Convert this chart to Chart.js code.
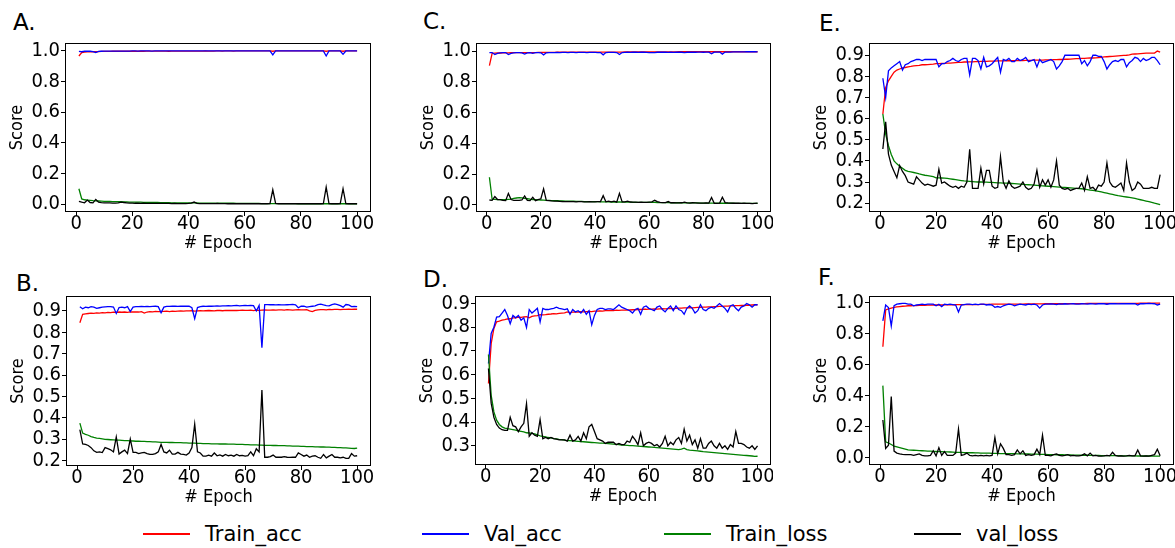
<!DOCTYPE html>
<html>
<head>
<meta charset="utf-8">
<script src="https://cdn.jsdelivr.net/npm/chart.js@4.4.0/dist/chart.umd.min.js"></script>
<style>
  body { margin: 0; background: #fff; width: 1175px; height: 548px; overflow: hidden; position: relative; font-family: 'DejaVu Sans', sans-serif; color: #000; }
  canvas { position: absolute; }
  .tag { position: absolute; font-size: 23px; line-height: 23px; }
  .key { position: absolute; top: 524px; font-size: 21px; line-height: 21px; white-space: nowrap; }
  .key i { position: absolute; left: 0; top: 9px; height: 2px; width: 47px; }
  .key span { position: absolute; left: 62px; top: 0; }
</style>
</head>
<body>
<div class="tag" style="left:13px;top:11px">A.</div>
<div class="tag" style="left:16px;top:272px">B.</div>
<div class="tag" style="left:423px;top:10px">C.</div>
<div class="tag" style="left:423px;top:268px">D.</div>
<div class="tag" style="left:819px;top:12px">E.</div>
<div class="tag" style="left:818px;top:266px">F.</div>

<canvas id="chartA"></canvas>
<canvas id="chartB"></canvas>
<canvas id="chartC"></canvas>
<canvas id="chartD"></canvas>
<canvas id="chartE"></canvas>
<canvas id="chartF"></canvas>

<div class="key" style="left:143px"><i style="background:#ff0000"></i><span>Train_acc</span></div>
<div class="key" style="left:422px"><i style="background:#0000ff"></i><span>Val_acc</span></div>
<div class="key" style="left:664px"><i style="background:#008000"></i><span>Train_loss</span></div>
<div class="key" style="left:914px"><i style="background:#000000"></i><span>val_loss</span></div>

<script>
// epochs 1..100 on the x axis
const epochs = Array.from({ length: 100 }, (_, i) => i + 1);
const seriesNames = ['Train_acc', 'Val_acc', 'Train_loss', 'val_loss'];
const xTicks = [0, 20, 40, 60, 80, 100];
const yTicksUnit = [0, 0.2, 0.4, 0.6, 0.8, 1.0];
const yTicksB = [0.2, 0.3, 0.4, 0.5, 0.6, 0.7, 0.8, 0.9];
const yTicksD = [0.3, 0.4, 0.5, 0.6, 0.7, 0.8, 0.9];
const yTicksE = [0.2, 0.3, 0.4, 0.5, 0.6, 0.7, 0.8, 0.9];

// ---- A
const trainAccA = [
  0.967,0.990,0.993,0.994,0.995,0.995,0.996,0.996,0.997,0.997,
  0.997,0.997,0.998,0.998,0.998,0.998,0.998,0.998,0.998,0.998,
  0.998,0.998,0.999,0.998,0.999,0.999,0.999,0.999,0.999,0.999,
  0.999,0.999,0.998,0.999,0.999,0.999,0.999,0.999,0.999,0.999,
  0.999,0.999,0.999,0.999,0.999,1.000,0.999,0.999,0.999,1.000,
  1.000,0.999,1.000,1.000,1.000,0.999,1.000,1.000,1.000,1.000,
  1.000,1.000,1.000,1.000,1.000,1.000,1.000,1.000,1.000,0.998,
  1.000,1.000,1.000,1.000,1.000,1.000,1.000,1.000,1.000,1.000,
  1.000,1.000,1.000,1.000,1.000,1.000,1.000,1.000,0.998,1.000,
  1.000,1.000,1.000,1.000,0.998,1.000,1.000,1.000,1.000,1.000];
const valAccA = [
  0.997,0.995,0.998,0.999,0.998,0.996,0.990,0.997,0.998,0.999,
  0.999,0.999,0.999,0.999,0.999,0.999,0.999,0.999,0.999,1.000,
  1.000,0.999,1.000,1.000,1.000,1.000,0.999,1.000,1.000,1.000,
  1.000,1.000,1.000,1.000,1.000,1.000,1.000,1.000,1.000,1.000,
  1.000,1.000,1.000,1.000,1.000,1.000,1.000,1.000,1.000,1.000,
  1.000,1.000,1.000,1.000,1.000,1.000,1.000,1.000,1.000,1.000,
  1.000,1.000,1.000,1.000,1.000,1.000,1.000,1.000,1.000,0.974,
  1.000,1.000,1.000,1.000,1.000,1.000,1.000,1.000,1.000,1.000,
  1.000,1.000,1.000,1.000,1.000,1.000,1.000,1.000,0.967,1.000,
  1.000,1.000,1.000,1.000,0.978,1.000,1.000,1.000,1.000,1.000];
const trainLossA = [
  0.100,0.033,0.028,0.026,0.024,0.022,0.021,0.020,0.019,0.018,
  0.018,0.017,0.016,0.016,0.015,0.015,0.014,0.014,0.013,0.013,
  0.012,0.012,0.012,0.011,0.011,0.011,0.010,0.010,0.010,0.009,
  0.009,0.009,0.009,0.008,0.008,0.008,0.008,0.008,0.007,0.007,
  0.007,0.007,0.007,0.006,0.006,0.006,0.006,0.006,0.006,0.005,
  0.005,0.005,0.005,0.005,0.005,0.005,0.004,0.004,0.004,0.004,
  0.004,0.004,0.004,0.004,0.004,0.003,0.003,0.003,0.003,0.003,
  0.003,0.003,0.003,0.003,0.003,0.003,0.003,0.003,0.002,0.002,
  0.002,0.002,0.002,0.002,0.002,0.002,0.002,0.002,0.002,0.002,
  0.002,0.002,0.002,0.002,0.002,0.002,0.002,0.002,0.002,0.002];
const valLossA = [
  0.017,0.012,0.008,0.026,0.010,0.008,0.030,0.012,0.009,0.008,
  0.007,0.007,0.006,0.006,0.007,0.012,0.010,0.008,0.006,0.006,
  0.005,0.005,0.004,0.005,0.004,0.004,0.004,0.004,0.004,0.004,
  0.004,0.004,0.004,0.003,0.004,0.003,0.003,0.003,0.003,0.004,
  0.006,0.013,0.005,0.003,0.003,0.003,0.003,0.003,0.003,0.004,
  0.003,0.003,0.003,0.002,0.002,0.002,0.002,0.002,0.002,0.002,
  0.002,0.002,0.002,0.002,0.002,0.002,0.002,0.002,0.003,0.093,
  0.004,0.002,0.002,0.002,0.002,0.002,0.002,0.002,0.002,0.002,
  0.002,0.002,0.002,0.002,0.002,0.002,0.002,0.003,0.110,0.003,
  0.002,0.002,0.002,0.003,0.100,0.003,0.002,0.002,0.002,0.002];

// ---- B
const trainAccB = [
  0.845,0.884,0.886,0.888,0.890,0.889,0.891,0.890,0.892,0.891,
  0.893,0.892,0.894,0.893,0.895,0.894,0.895,0.893,0.896,0.895,
  0.896,0.895,0.897,0.890,0.895,0.897,0.896,0.898,0.897,0.897,
  0.898,0.899,0.897,0.899,0.898,0.899,0.900,0.899,0.900,0.900,
  0.901,0.899,0.900,0.901,0.900,0.901,0.902,0.901,0.900,0.902,
  0.902,0.901,0.903,0.902,0.902,0.903,0.902,0.903,0.904,0.903,
  0.903,0.904,0.902,0.904,0.903,0.904,0.905,0.904,0.904,0.905,
  0.904,0.905,0.905,0.904,0.906,0.905,0.904,0.905,0.906,0.905,
  0.905,0.906,0.900,0.897,0.903,0.905,0.906,0.906,0.905,0.907,
  0.906,0.907,0.907,0.906,0.907,0.907,0.908,0.907,0.908,0.908];
const valAccB = [
  0.920,0.910,0.918,0.915,0.920,0.918,0.912,0.915,0.918,0.919,
  0.920,0.920,0.918,0.888,0.916,0.918,0.915,0.920,0.897,0.918,
  0.920,0.920,0.921,0.920,0.921,0.920,0.921,0.922,0.920,0.892,
  0.918,0.921,0.921,0.922,0.922,0.921,0.922,0.922,0.922,0.922,
  0.915,0.864,0.916,0.920,0.922,0.921,0.923,0.922,0.923,0.924,
  0.923,0.924,0.924,0.925,0.924,0.925,0.926,0.924,0.925,0.926,
  0.925,0.926,0.925,0.900,0.926,0.728,0.930,0.930,0.929,0.929,
  0.928,0.929,0.928,0.928,0.929,0.930,0.931,0.929,0.915,0.922,
  0.922,0.918,0.920,0.922,0.924,0.930,0.932,0.928,0.925,0.924,
  0.930,0.933,0.930,0.925,0.918,0.930,0.928,0.920,0.921,0.920];
const trainLossB = [
  0.375,0.328,0.322,0.318,0.312,0.308,0.305,0.303,0.301,0.299,
  0.298,0.297,0.296,0.295,0.295,0.294,0.293,0.293,0.292,0.291,
  0.290,0.290,0.289,0.289,0.288,0.288,0.287,0.287,0.286,0.285,
  0.285,0.285,0.284,0.284,0.283,0.283,0.283,0.282,0.282,0.281,
  0.281,0.281,0.280,0.280,0.279,0.279,0.279,0.278,0.278,0.278,
  0.277,0.277,0.277,0.276,0.276,0.276,0.275,0.275,0.275,0.274,
  0.274,0.273,0.273,0.273,0.272,0.272,0.271,0.271,0.271,0.270,
  0.270,0.269,0.269,0.269,0.268,0.268,0.267,0.267,0.267,0.266,
  0.266,0.265,0.265,0.265,0.264,0.264,0.263,0.263,0.262,0.262,
  0.261,0.261,0.260,0.260,0.259,0.259,0.258,0.257,0.256,0.258];
const valLossB = [
  0.344,0.277,0.275,0.270,0.260,0.245,0.238,0.240,0.237,0.260,
  0.255,0.250,0.240,0.310,0.230,0.240,0.248,0.232,0.300,0.238,
  0.238,0.232,0.235,0.238,0.232,0.228,0.228,0.232,0.240,0.275,
  0.240,0.235,0.248,0.230,0.230,0.238,0.230,0.228,0.225,0.235,
  0.260,0.370,0.240,0.235,0.220,0.220,0.225,0.220,0.235,0.222,
  0.226,0.220,0.228,0.222,0.225,0.220,0.228,0.222,0.224,0.220,
  0.222,0.240,0.222,0.255,0.240,0.530,0.215,0.215,0.218,0.225,
  0.215,0.216,0.215,0.218,0.215,0.214,0.216,0.215,0.235,0.228,
  0.220,0.225,0.215,0.220,0.222,0.215,0.210,0.228,0.212,0.220,
  0.228,0.215,0.215,0.212,0.215,0.210,0.210,0.232,0.220,0.222];

// ---- C
const trainAccC = [
  0.905,0.985,0.986,0.987,0.987,0.988,0.988,0.988,0.989,0.989,
  0.989,0.989,0.990,0.990,0.990,0.990,0.990,0.990,0.991,0.991,
  0.991,0.991,0.991,0.991,0.991,0.992,0.992,0.992,0.992,0.992,
  0.992,0.992,0.992,0.992,0.992,0.993,0.993,0.993,0.993,0.993,
  0.993,0.993,0.993,0.993,0.993,0.993,0.993,0.993,0.993,0.993,
  0.994,0.994,0.994,0.994,0.994,0.994,0.994,0.994,0.994,0.994,
  0.994,0.994,0.994,0.994,0.994,0.994,0.994,0.994,0.994,0.994,
  0.995,0.995,0.995,0.995,0.995,0.995,0.995,0.995,0.995,0.995,
  0.995,0.995,0.995,0.995,0.995,0.995,0.995,0.995,0.995,0.995,
  0.995,0.995,0.995,0.995,0.995,0.995,0.995,0.995,0.995,0.995];
const valAccC = [
  0.990,0.990,0.977,0.985,0.988,0.990,0.990,0.977,0.985,0.988,
  0.989,0.990,0.988,0.980,0.988,0.990,0.985,0.990,0.990,0.988,
  0.975,0.988,0.990,0.990,0.990,0.991,0.990,0.991,0.991,0.990,
  0.991,0.991,0.990,0.991,0.991,0.991,0.990,0.991,0.991,0.991,
  0.990,0.990,0.975,0.990,0.991,0.991,0.991,0.990,0.977,0.990,
  0.991,0.992,0.991,0.992,0.992,0.991,0.992,0.992,0.991,0.990,
  0.990,0.990,0.992,0.992,0.992,0.992,0.991,0.992,0.991,0.992,
  0.992,0.992,0.990,0.992,0.992,0.993,0.992,0.993,0.993,0.992,
  0.993,0.993,0.982,0.993,0.993,0.993,0.980,0.993,0.993,0.993,
  0.994,0.994,0.994,0.994,0.994,0.995,0.995,0.995,0.995,0.994];
const trainLossC = [
  0.180,0.037,0.036,0.035,0.035,0.034,0.034,0.036,0.038,0.042,
  0.045,0.048,0.046,0.042,0.040,0.037,0.035,0.034,0.033,0.032,
  0.031,0.030,0.029,0.028,0.028,0.027,0.026,0.026,0.025,0.025,
  0.024,0.024,0.023,0.023,0.023,0.022,0.022,0.022,0.021,0.021,
  0.021,0.020,0.020,0.020,0.020,0.019,0.019,0.019,0.019,0.018,
  0.018,0.018,0.018,0.017,0.017,0.017,0.017,0.016,0.016,0.016,
  0.016,0.016,0.015,0.015,0.015,0.015,0.015,0.014,0.014,0.014,
  0.014,0.014,0.013,0.013,0.013,0.013,0.013,0.013,0.012,0.012,
  0.012,0.012,0.012,0.012,0.011,0.011,0.011,0.011,0.011,0.011,
  0.011,0.010,0.010,0.010,0.010,0.010,0.010,0.010,0.010,0.010];
const valLossC = [
  0.032,0.030,0.054,0.035,0.035,0.030,0.028,0.075,0.035,0.030,
  0.030,0.030,0.032,0.058,0.030,0.028,0.050,0.028,0.035,0.040,
  0.104,0.030,0.028,0.026,0.025,0.024,0.023,0.022,0.022,0.021,
  0.021,0.022,0.020,0.021,0.022,0.020,0.020,0.021,0.020,0.020,
  0.021,0.022,0.060,0.020,0.025,0.020,0.025,0.018,0.075,0.020,
  0.020,0.025,0.019,0.018,0.018,0.017,0.018,0.016,0.016,0.018,
  0.020,0.030,0.022,0.016,0.015,0.015,0.022,0.014,0.014,0.013,
  0.013,0.014,0.018,0.013,0.012,0.014,0.013,0.012,0.012,0.012,
  0.013,0.012,0.048,0.010,0.010,0.012,0.050,0.015,0.013,0.012,
  0.011,0.011,0.012,0.010,0.011,0.010,0.010,0.008,0.010,0.012];

// ---- D
const trainAccD = [
  0.563,0.731,0.795,0.823,0.826,0.830,0.832,0.835,0.836,0.840,
  0.840,0.843,0.842,0.844,0.845,0.840,0.846,0.848,0.849,0.853,
  0.852,0.853,0.855,0.856,0.858,0.857,0.859,0.860,0.861,0.865,
  0.862,0.864,0.865,0.864,0.866,0.865,0.866,0.867,0.866,0.868,
  0.868,0.869,0.868,0.870,0.870,0.871,0.870,0.872,0.871,0.872,
  0.872,0.873,0.873,0.874,0.874,0.875,0.875,0.876,0.876,0.877,
  0.877,0.878,0.877,0.878,0.879,0.878,0.879,0.880,0.879,0.880,
  0.881,0.881,0.882,0.882,0.883,0.882,0.883,0.884,0.884,0.885,
  0.885,0.886,0.886,0.887,0.887,0.888,0.888,0.889,0.889,0.890,
  0.890,0.891,0.891,0.892,0.892,0.893,0.893,0.894,0.895,0.895];
const valAccD = [
  0.647,0.774,0.800,0.843,0.845,0.860,0.875,0.850,0.815,0.850,
  0.840,0.850,0.830,0.840,0.799,0.875,0.860,0.870,0.880,0.823,
  0.880,0.875,0.875,0.878,0.880,0.885,0.880,0.878,0.875,0.878,
  0.855,0.875,0.865,0.870,0.860,0.875,0.855,0.870,0.811,0.850,
  0.875,0.880,0.880,0.875,0.878,0.878,0.875,0.885,0.895,0.885,
  0.880,0.875,0.870,0.860,0.875,0.880,0.855,0.885,0.890,0.880,
  0.875,0.870,0.885,0.890,0.875,0.865,0.880,0.890,0.870,0.890,
  0.875,0.870,0.855,0.880,0.890,0.880,0.860,0.870,0.895,0.875,
  0.870,0.880,0.885,0.880,0.890,0.900,0.890,0.880,0.865,0.890,
  0.895,0.880,0.870,0.885,0.890,0.900,0.895,0.885,0.895,0.895];
const trainLossD = [
  0.685,0.513,0.443,0.408,0.390,0.380,0.375,0.372,0.370,0.368,
  0.366,0.363,0.361,0.359,0.355,0.354,0.352,0.350,0.346,0.342,
  0.340,0.338,0.335,0.333,0.330,0.329,0.327,0.326,0.324,0.322,
  0.322,0.321,0.320,0.319,0.318,0.317,0.316,0.315,0.314,0.313,
  0.312,0.311,0.311,0.310,0.309,0.308,0.307,0.306,0.305,0.303,
  0.303,0.302,0.301,0.301,0.300,0.299,0.298,0.297,0.296,0.295,
  0.294,0.293,0.292,0.291,0.290,0.289,0.288,0.287,0.286,0.285,
  0.284,0.286,0.290,0.284,0.282,0.281,0.280,0.279,0.277,0.275,
  0.274,0.273,0.272,0.271,0.270,0.269,0.268,0.267,0.266,0.265,
  0.264,0.263,0.262,0.261,0.260,0.259,0.258,0.257,0.255,0.256];
const valLossD = [
  0.626,0.480,0.420,0.390,0.375,0.368,0.365,0.365,0.420,0.385,
  0.380,0.360,0.380,0.395,0.478,0.340,0.355,0.345,0.340,0.411,
  0.330,0.335,0.330,0.335,0.330,0.328,0.325,0.325,0.325,0.320,
  0.345,0.320,0.325,0.340,0.320,0.355,0.330,0.380,0.390,0.360,
  0.330,0.325,0.320,0.310,0.315,0.315,0.315,0.305,0.310,0.305,
  0.305,0.320,0.315,0.340,0.325,0.305,0.355,0.300,0.310,0.315,
  0.310,0.300,0.305,0.295,0.310,0.340,0.300,0.315,0.305,0.325,
  0.335,0.310,0.370,0.320,0.345,0.305,0.325,0.290,0.330,0.290,
  0.290,0.310,0.320,0.300,0.290,0.310,0.290,0.300,0.285,0.305,
  0.295,0.360,0.310,0.310,0.305,0.295,0.290,0.300,0.285,0.300];

// ---- E
const trainAccE = [
  0.622,0.747,0.779,0.800,0.820,0.830,0.835,0.840,0.842,0.845,
  0.847,0.850,0.851,0.852,0.855,0.855,0.856,0.857,0.858,0.860,
  0.860,0.861,0.862,0.863,0.863,0.864,0.865,0.866,0.866,0.868,
  0.868,0.869,0.869,0.870,0.870,0.871,0.871,0.871,0.872,0.872,
  0.872,0.873,0.873,0.873,0.874,0.874,0.874,0.875,0.875,0.875,
  0.875,0.876,0.876,0.876,0.877,0.877,0.877,0.877,0.878,0.878,
  0.878,0.879,0.879,0.880,0.880,0.881,0.881,0.882,0.883,0.884,
  0.884,0.885,0.885,0.886,0.887,0.887,0.888,0.889,0.890,0.892,
  0.893,0.894,0.895,0.896,0.897,0.898,0.899,0.900,0.902,0.905,
  0.906,0.907,0.908,0.909,0.910,0.910,0.910,0.910,0.920,0.915];
const valAccE = [
  0.791,0.700,0.826,0.840,0.850,0.860,0.870,0.830,0.855,0.860,
  0.870,0.875,0.880,0.880,0.875,0.880,0.880,0.880,0.880,0.880,
  0.845,0.860,0.860,0.870,0.875,0.885,0.875,0.870,0.880,0.885,
  0.885,0.807,0.885,0.885,0.875,0.835,0.890,0.845,0.850,0.860,
  0.875,0.890,0.820,0.880,0.875,0.885,0.870,0.870,0.885,0.875,
  0.880,0.890,0.870,0.875,0.880,0.845,0.880,0.865,0.870,0.875,
  0.880,0.870,0.835,0.850,0.870,0.900,0.900,0.900,0.900,0.900,
  0.900,0.860,0.875,0.850,0.870,0.900,0.900,0.895,0.895,0.870,
  0.835,0.855,0.870,0.875,0.870,0.880,0.880,0.845,0.865,0.875,
  0.890,0.885,0.870,0.885,0.875,0.880,0.890,0.890,0.875,0.855];
const trainLossE = [
  0.622,0.527,0.472,0.430,0.400,0.386,0.375,0.365,0.355,0.350,
  0.348,0.345,0.342,0.338,0.335,0.332,0.330,0.328,0.325,0.320,
  0.320,0.319,0.318,0.317,0.315,0.313,0.311,0.309,0.307,0.305,
  0.304,0.303,0.302,0.301,0.300,0.300,0.299,0.299,0.298,0.298,
  0.297,0.296,0.296,0.295,0.295,0.294,0.293,0.292,0.291,0.290,
  0.289,0.288,0.287,0.286,0.285,0.284,0.283,0.282,0.281,0.280,
  0.279,0.278,0.277,0.276,0.275,0.274,0.273,0.272,0.271,0.270,
  0.269,0.268,0.266,0.264,0.262,0.260,0.258,0.256,0.253,0.250,
  0.247,0.244,0.241,0.238,0.235,0.233,0.231,0.229,0.227,0.225,
  0.222,0.219,0.216,0.213,0.210,0.207,0.204,0.200,0.197,0.193];
const valLossE = [
  0.456,0.585,0.432,0.380,0.350,0.320,0.378,0.350,0.330,0.300,
  0.295,0.290,0.325,0.310,0.295,0.285,0.290,0.285,0.280,0.285,
  0.360,0.295,0.300,0.290,0.280,0.275,0.280,0.270,0.280,0.275,
  0.300,0.455,0.270,0.270,0.270,0.365,0.290,0.355,0.355,0.280,
  0.270,0.275,0.420,0.300,0.270,0.305,0.280,0.270,0.275,0.280,
  0.300,0.275,0.265,0.270,0.290,0.355,0.275,0.310,0.285,0.310,
  0.275,0.310,0.400,0.285,0.270,0.265,0.270,0.260,0.265,0.270,
  0.270,0.295,0.260,0.325,0.270,0.275,0.260,0.285,0.280,0.300,
  0.390,0.300,0.280,0.275,0.285,0.295,0.260,0.390,0.300,0.260,
  0.270,0.300,0.290,0.270,0.270,0.270,0.275,0.270,0.270,0.335];

// ---- F
const trainAccF = [
  0.716,0.953,0.960,0.965,0.970,0.973,0.975,0.977,0.978,0.980,
  0.980,0.981,0.981,0.982,0.983,0.983,0.984,0.984,0.985,0.985,
  0.985,0.985,0.986,0.986,0.986,0.986,0.987,0.987,0.987,0.987,
  0.987,0.988,0.988,0.988,0.988,0.989,0.989,0.989,0.989,0.990,
  0.990,0.990,0.990,0.990,0.990,0.991,0.991,0.991,0.991,0.991,
  0.991,0.992,0.992,0.992,0.992,0.992,0.992,0.992,0.993,0.993,
  0.993,0.993,0.993,0.993,0.993,0.994,0.994,0.994,0.994,0.994,
  0.994,0.994,0.994,0.995,0.995,0.995,0.995,0.995,0.995,0.995,
  0.995,0.995,0.996,0.996,0.996,0.996,0.996,0.996,0.996,0.996,
  0.996,0.996,0.997,0.997,0.997,0.997,0.997,0.997,0.997,0.997];
const valAccF = [
  0.882,0.985,0.968,0.850,0.980,0.990,0.993,0.995,0.995,0.990,
  0.990,0.980,0.985,0.988,0.990,0.988,0.990,0.990,0.990,0.980,
  0.990,0.975,0.990,0.988,0.990,0.988,0.985,0.940,0.985,0.988,
  0.990,0.990,0.988,0.990,0.988,0.990,0.990,0.985,0.988,0.985,
  0.970,0.975,0.970,0.980,0.985,0.990,0.988,0.980,0.985,0.990,
  0.988,0.985,0.990,0.988,0.990,0.985,0.965,0.985,0.990,0.990,
  0.992,0.990,0.988,0.992,0.990,0.993,0.990,0.992,0.993,0.990,
  0.990,0.993,0.992,0.990,0.993,0.992,0.990,0.993,0.994,0.993,
  0.990,0.993,0.994,0.993,0.992,0.994,0.993,0.994,0.993,0.994,
  0.993,0.985,0.994,0.993,0.994,0.995,0.994,0.993,0.985,0.990];
const trainLossF = [
  0.465,0.103,0.095,0.085,0.075,0.070,0.065,0.060,0.055,0.050,
  0.049,0.048,0.047,0.046,0.045,0.044,0.043,0.042,0.041,0.040,
  0.039,0.039,0.038,0.038,0.037,0.036,0.035,0.035,0.034,0.033,
  0.033,0.032,0.032,0.031,0.031,0.030,0.030,0.029,0.029,0.028,
  0.028,0.028,0.027,0.027,0.027,0.026,0.026,0.026,0.025,0.025,
  0.025,0.024,0.024,0.023,0.023,0.023,0.022,0.022,0.021,0.020,
  0.020,0.020,0.019,0.019,0.019,0.018,0.018,0.018,0.017,0.017,
  0.017,0.016,0.016,0.016,0.015,0.015,0.015,0.015,0.014,0.014,
  0.014,0.014,0.013,0.013,0.013,0.013,0.012,0.012,0.012,0.012,
  0.012,0.011,0.011,0.011,0.011,0.011,0.010,0.010,0.010,0.010];
const valLossF = [
  0.243,0.060,0.080,0.394,0.043,0.030,0.025,0.022,0.020,0.020,
  0.020,0.015,0.020,0.025,0.015,0.012,0.012,0.015,0.045,0.012,
  0.065,0.015,0.040,0.015,0.015,0.015,0.030,0.185,0.015,0.020,
  0.030,0.015,0.012,0.015,0.012,0.015,0.012,0.015,0.012,0.015,
  0.130,0.025,0.090,0.060,0.020,0.020,0.015,0.020,0.050,0.025,
  0.045,0.015,0.020,0.015,0.020,0.055,0.020,0.146,0.015,0.015,
  0.012,0.020,0.025,0.015,0.012,0.015,0.020,0.012,0.015,0.012,
  0.012,0.015,0.025,0.012,0.030,0.012,0.015,0.010,0.010,0.012,
  0.015,0.012,0.035,0.015,0.010,0.012,0.010,0.012,0.015,0.012,
  0.012,0.050,0.012,0.010,0.012,0.010,0.015,0.020,0.055,0.012];

// plot boxes: [left, top, right, bottom] in page pixels
const panels = [
  { id: 'chartA', box: [65, 43, 371, 212], y: [-0.052, 1.052], ticks: yTicksUnit,
    data: [trainAccA, valAccA, trainLossA, valLossA] },
  { id: 'chartB', box: [66, 296, 371, 466], y: [0.174, 0.970], ticks: yTicksB,
    data: [trainAccB, valAccB, trainLossB, valLossB] },
  { id: 'chartC', box: [476, 43, 771, 212], y: [-0.046, 1.052], ticks: yTicksUnit,
    data: [trainAccC, valAccC, trainLossC, valLossC] },
  { id: 'chartD', box: [475, 296, 771, 465], y: [0.219, 0.932], ticks: yTicksD,
    data: [trainAccD, valAccD, trainLossD, valLossD] },
  { id: 'chartE', box: [869, 43, 1174, 212], y: [0.158, 0.958], ticks: yTicksE,
    data: [trainAccE, valAccE, trainLossE, valLossE] },
  { id: 'chartF', box: [869, 296, 1174, 465], y: [-0.047, 1.043], ticks: yTicksUnit,
    data: [trainAccF, valAccF, trainLossF, valLossF] }
];

const colors = ['#ff0000', '#0000ff', '#008000', '#000000'];
const FONT = "'DejaVu Sans Condensed', 'Liberation Sans Narrow', 'DejaVu Sans', sans-serif";
const Y_W = 58;   // room left of the frame for tick labels + "Score"
const X_H = 42;   // room under the frame for tick labels + "# Epoch"
const PAD = 2;

Chart.defaults.color = '#000';

// four-sided axes frame
const framePlugin = {
  id: 'frame',
  afterDraw(chart) {
    const a = chart.chartArea, ctx = chart.ctx;
    ctx.save();
    ctx.strokeStyle = '#000';
    ctx.lineWidth = 1;
    ctx.strokeRect(a.left + 0.5, a.top + 0.5, a.right - a.left - 1, a.bottom - a.top - 1);
    ctx.restore();
  }
};

panels.forEach(function (p) {
  const [l, t, r, b] = p.box;
  const canvas = document.getElementById(p.id);
  canvas.width = (r - l) + Y_W + PAD;
  canvas.height = (b - t) + PAD + X_H;
  canvas.style.left = (l - Y_W) + 'px';
  canvas.style.top = (t - PAD) + 'px';

  const datasets = p.data.map(function (vals, k) {
    return {
      label: seriesNames[k],
      data: vals.map((v, i) => ({ x: epochs[i], y: v })),
      borderColor: colors[k],
      borderWidth: 1.3,
      pointRadius: 0,
      tension: 0,
      fill: false,
      order: 4 - k
    };
  });

  new Chart(canvas.getContext('2d'), {
    type: 'line',
    data: { datasets: datasets },
    options: {
      responsive: false,
      animation: false,
      events: [],
      layout: { padding: { left: 0, top: PAD, right: PAD, bottom: 0 } },
      plugins: { legend: { display: false }, tooltip: { enabled: false } },
      scales: {
        x: {
          type: 'linear',
          min: -3.95,
          max: 104.95,
          afterBuildTicks: s => { s.ticks = xTicks.map(v => ({ value: v })); },
          afterFit: s => { s.height = X_H; s.paddingLeft = 0; s.paddingRight = 0; },
          ticks: {
            autoSkip: false, maxRotation: 0, padding: -2,
            font: { family: FONT, size: 20, lineHeight: 1 },
            callback: v => String(v)
          },
          grid: { drawOnChartArea: false, drawTicks: true, tickLength: 4, color: '#000' },
          border: { display: false },
          title: { display: true, text: '# Epoch', padding: 0, font: { family: FONT, size: 18 } }
        },
        y: {
          min: p.y[0],
          max: p.y[1],
          afterBuildTicks: s => { s.ticks = p.ticks.map(v => ({ value: v })); },
          afterFit: s => { s.width = Y_W; s.paddingTop = 0; s.paddingBottom = 0; },
          ticks: {
            autoSkip: false, padding: 1,
            font: { family: FONT, size: 20 },
            callback: v => Number(v).toFixed(1)
          },
          grid: { drawOnChartArea: false, drawTicks: true, tickLength: 4, color: '#000' },
          border: { display: false },
          title: { display: true, text: 'Score', padding: 0, font: { family: FONT, size: 18 } }
        }
      }
    },
    plugins: [framePlugin]
  });
});
</script>
</body>
</html>
